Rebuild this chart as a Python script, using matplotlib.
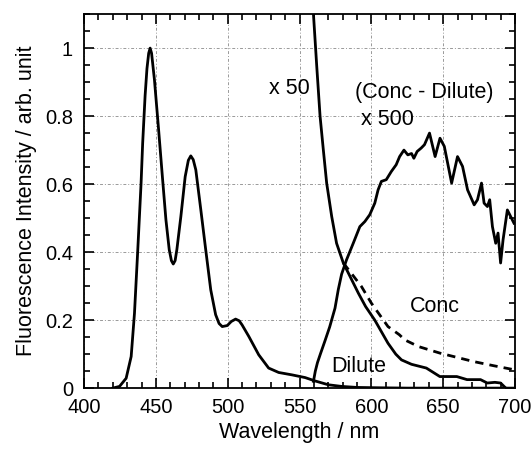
import matplotlib
matplotlib.use("Agg")
import matplotlib.pyplot as plt
from matplotlib.ticker import MultipleLocator

plt.rcParams['font.family'] = ['Liberation Sans', 'DejaVu Sans']

# Dilute spectrum (normalized)
dil_x = [420.0, 424.7, 429.3, 432.8, 435.1, 437.4, 439.7, 440.8, 442.5, 443.8, 445.0, 446.0, 447.0,
         449.0, 451.9, 454.7, 457.0, 459.3, 460.8, 462.1, 463.4, 464.6, 467.4, 470.4, 472.6, 474.3,
         476.0, 477.8, 481.3, 484.7, 488.2, 491.6, 494.0, 496.2, 499.7, 502.5, 505.5, 508.0, 510.0,
         514.7, 521.6, 528.5, 535.5, 544.7, 553.9, 560.9, 570.1, 579.3, 590, 605, 625, 700]
dil_y = [0.0, 0.005, 0.029, 0.093, 0.22, 0.407, 0.603, 0.72, 0.86, 0.94, 0.985, 1.0, 0.985,
         0.907, 0.76, 0.613, 0.495, 0.407, 0.375, 0.365, 0.375, 0.407, 0.505, 0.622, 0.67, 0.683,
         0.672, 0.642, 0.524, 0.407, 0.289, 0.216, 0.19, 0.181, 0.184, 0.196, 0.203, 0.198, 0.186,
         0.152, 0.098, 0.059, 0.046, 0.039, 0.031, 0.021, 0.0098, 0.005, 0.002, 0.001, 0.0, 0.0]

# Dilute x 50
d50_x = [559.7, 562.0, 564.3, 566.6, 568.9, 572.4, 575.8, 580.5, 585.0, 591.0, 596.0, 602.4, 611.6,
         617.0, 621.0, 628.0, 638.3, 647.7, 659.5, 666.6, 676.0, 680.7, 686.0, 690.0, 693.6]
d50_y = [1.10, 0.946, 0.80, 0.70, 0.603, 0.505, 0.426, 0.368, 0.33, 0.279, 0.24, 0.20, 0.132,
         0.10, 0.083, 0.07, 0.059, 0.034, 0.034, 0.025, 0.025, 0.015, 0.017, 0.015, 0.0]

# Conc x 50 (dashed)
c50_x = [580.5, 585.1, 593.1, 600.0, 611.6, 619.5, 623.2, 633.0, 647.7, 671.3, 685.0, 699.5]
c50_y = [0.368, 0.343, 0.299, 0.25, 0.181, 0.157, 0.142, 0.122, 0.103, 0.078, 0.066, 0.054]

# (Conc - Dilute) x 500
diff_x = [559.7, 561.0, 562.5, 564.5, 567.8, 571.0, 574.7, 577.0, 579.3, 582.7, 587.4, 592.0, 595.5,
          598.9, 602.4, 604.7, 607.0, 610.4, 613.9, 617.3, 619.7, 622.7, 625.4, 628.0, 629.6,
          631.9, 634.7, 637.0, 640.5, 644.4, 647.8, 650.8, 655.9, 660.0, 663.5, 667.0, 671.6,
          673.9, 676.7, 678.5, 680.8, 682.4, 684.3, 686.6, 688.2, 690.0, 691.7, 694.7, 699.3]
diff_y = [0.02, 0.05, 0.075, 0.10, 0.14, 0.18, 0.235, 0.29, 0.335, 0.377, 0.426, 0.475, 0.49,
          0.51, 0.544, 0.583, 0.608, 0.613, 0.637, 0.657, 0.681, 0.70, 0.686, 0.69, 0.676,
          0.696, 0.706, 0.716, 0.75, 0.681, 0.735, 0.711, 0.603, 0.681, 0.652, 0.583, 0.539,
          0.554, 0.603, 0.544, 0.534, 0.554, 0.475, 0.426, 0.456, 0.368, 0.436, 0.524, 0.485]

fig = plt.figure(figsize=(5.32, 4.55), dpi=100)
ax = fig.add_axes([0.158, 0.147, 0.810, 0.822])

lw = 2.0
ax.plot(dil_x, dil_y, color='black', lw=lw, solid_joinstyle='round')
ax.plot(c50_x, c50_y, color='black', lw=lw, linestyle=(0, (3, 2.2)))
ax.plot(d50_x, d50_y, color='black', lw=lw, solid_joinstyle='round')
ax.plot(diff_x, diff_y, color='black', lw=lw, solid_joinstyle='round')

ax.set_xlim(400, 700)
ax.set_ylim(0, 1.1)
ax.xaxis.set_major_locator(MultipleLocator(50))
ax.xaxis.set_minor_locator(MultipleLocator(10))
ax.yaxis.set_minor_locator(MultipleLocator(0.05))
ax.set_yticks([0, 0.2, 0.4, 0.6, 0.8, 1.0])
ax.set_yticklabels(['0', '0.2', '0.4', '0.6', '0.8', '1'])
ax.tick_params(which='both', direction='in', top=True, right=True, labelsize=14.5, width=1.2)
ax.tick_params(which='major', length=7)
ax.tick_params(axis='x', which='major', pad=7)
ax.tick_params(axis='y', which='major', pad=8)
ax.tick_params(which='minor', length=4)
for s in ax.spines.values():
    s.set_linewidth(1.3)
ax.grid(True, which='major', color='#999999', lw=0.7, linestyle=(0, (3, 2, 1, 2)))

ax.set_xlabel('Wavelength / nm', fontsize=15.5, labelpad=4)
ax.set_ylabel('Fluorescence Intensity / arb. unit', fontsize=15.5, labelpad=6)

fs = 15.5
ax.text(543, 0.88, 'x 50', fontsize=fs, ha='center', va='center')
ax.text(637, 0.87, '(Conc - Dilute)', fontsize=fs, ha='center', va='center')
ax.text(611, 0.79, 'x 500', fontsize=fs, ha='center', va='center')
ax.text(644, 0.24, 'Conc', fontsize=fs, ha='center', va='center')
ax.text(591, 0.064, 'Dilute', fontsize=fs, ha='center', va='center')

fig.savefig('out.png', dpi=100)
